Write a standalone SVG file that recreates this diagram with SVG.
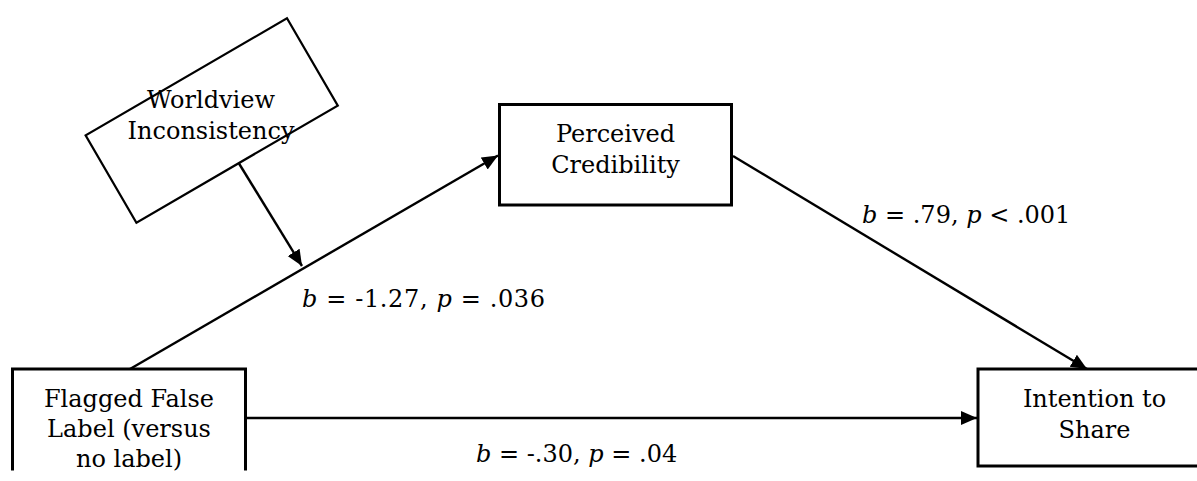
<svg xmlns="http://www.w3.org/2000/svg" width="1197" height="481" viewBox="0 0 1197 481">
<style>
  .box { fill: #ffffff; stroke: #000000; stroke-width: 3; }
  .wbox { fill: #ffffff; stroke: #000000; stroke-width: 2.2; }
  .lbl { font-family: "DejaVu Serif", "Liberation Serif", serif; font-size: 24px; fill: #000000; }
  .mid { text-anchor: middle; }
  .it { font-style: italic; }
  .conn { fill: none; stroke: #000000; stroke-width: 2.4; }
</style>
<defs>
  <marker id="arrow" markerUnits="userSpaceOnUse" markerWidth="18" markerHeight="16" refX="16" refY="7" orient="auto">
    <path d="M0,0 L16,7 L0,14 Z" fill="#000000"/>
  </marker>
</defs>
<rect width="1197" height="481" fill="#ffffff"/>

<g id="connectors">
  <line class="conn" x1="130" y1="369" x2="498" y2="155.5" marker-end="url(#arrow)"/>
  <line class="conn" x1="733" y1="156" x2="1087" y2="369" marker-end="url(#arrow)"/>
  <line class="conn" x1="246" y1="418" x2="977" y2="418" marker-end="url(#arrow)"/>
  <line class="conn" x1="239" y1="163.5" x2="302" y2="266" marker-end="url(#arrow)"/>
</g>

<g id="node-worldview">
  <rect class="wbox" x="-116.5" y="-50.5" width="233" height="101" transform="translate(211.7,120.5) rotate(-30.2)"/>
  <text class="lbl mid" x="211" y="108">Worldview</text>
  <text class="lbl mid" x="211" y="139">Inconsistency</text>
</g>

<g id="node-perceived">
  <rect class="box" x="499.5" y="104.5" width="232" height="100.5"/>
  <text class="lbl mid" x="615.5" y="141.5">Perceived</text>
  <text class="lbl mid" x="615.5" y="173">Credibility</text>
</g>

<g id="node-flagged">
  <path class="box" d="M12.5,470.5 V369 H245.5 V470.5"/>
  <text class="lbl mid" x="129" y="406.5">Flagged False</text>
  <text class="lbl mid" x="129" y="437">Label (versus</text>
  <text class="lbl mid" x="129" y="467">no label)</text>
</g>

<g id="node-intention">
  <rect class="box" x="978" y="369" width="233" height="97"/>
  <text class="lbl mid" x="1094.5" y="406.5">Intention to</text>
  <text class="lbl mid" x="1094.5" y="438">Share</text>
</g>

<g id="edge-labels">
  <text class="lbl" x="302" y="307" textLength="243" lengthAdjust="spacing"><tspan class="it">b</tspan> = -1.27, <tspan class="it">p</tspan> = .036</text>
  <text class="lbl" x="862" y="223"><tspan class="it">b</tspan> = .79, <tspan class="it">p</tspan> &lt; .001</text>
  <text class="lbl" x="476" y="462"><tspan class="it">b</tspan> = -.30, <tspan class="it">p</tspan> = .04</text>
</g>
</svg>
